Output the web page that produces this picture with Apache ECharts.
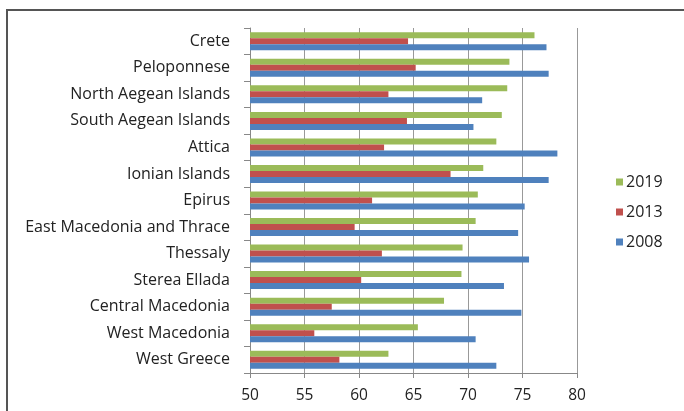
<!DOCTYPE html>
<html>
<head>
<meta charset="utf-8">
<script src="https://cdn.jsdelivr.net/npm/echarts@6/dist/echarts.min.js"></script>
<style>
  html, body { margin: 0; padding: 0; background: #fff; }
  #chart { width: 684px; height: 411px; }
</style>
</head>
<body>
<div id="chart"></div>
<script>
// Regions listed from bottom to top of the chart
const regions = [
  'West Greece', 'West Macedonia', 'Central Macedonia', 'Sterea Ellada',
  'Thessaly', 'East Macedonia and Thrace', 'Epirus', 'Ionian Islands',
  'Attica', 'South Aegean Islands', 'North Aegean Islands', 'Peloponnese', 'Crete'
];
const values2008 = [72.6, 70.7, 74.9, 73.3, 75.6, 74.6, 75.2, 77.4, 78.2, 70.5, 71.3, 77.4, 77.2];
const values2013 = [58.2, 55.9, 57.5, 60.2, 62.1, 59.6, 61.2, 68.4, 62.3, 64.4, 62.7, 65.2, 64.5];
const values2019 = [62.7, 65.4, 67.8, 69.4, 69.5, 70.7, 70.9, 71.4, 72.6, 73.1, 73.6, 73.8, 76.1];
const years = ['2019', '2013', '2008'];

const FONT = '"Open Sans", sans-serif';
const chart = echarts.init(document.getElementById('chart'), null, { renderer: 'canvas' });

chart.setOption({
  animation: false,
  backgroundColor: '#fff',
  textStyle: { fontFamily: FONT },
  graphic: [{
    type: 'rect',
    shape: { x: 7, y: 10, width: 700, height: 430 },
    style: { fill: 'none', stroke: '#555', lineWidth: 2 },
    silent: true
  }],
  legend: {
    data: years,
    orient: 'vertical',
    left: 616,
    top: 171,
    padding: 0,
    itemWidth: 7,
    itemHeight: 7,
    itemGap: 8,
    icon: 'rect',
    textStyle: { fontSize: 16, lineHeight: 22, color: '#222', fontFamily: FONT, padding: [0, 0, 0, -2] }
  },
  grid: { left: 250, right: 107, top: 28, bottom: 38, containLabel: false },
  xAxis: {
    type: 'value',
    min: 50,
    max: 80,
    interval: 5,
    axisLine: { show: true, lineStyle: { color: '#888', width: 1 } },
    axisTick: { show: true, length: 5, lineStyle: { color: '#888' } },
    axisLabel: { fontSize: 15.5, color: '#222', margin: 15, fontFamily: FONT },
    splitLine: { show: true, lineStyle: { color: '#999', width: 1 } }
  },
  yAxis: {
    type: 'category',
    data: regions,
    axisLine: { show: true, lineStyle: { color: '#888', width: 1 } },
    axisTick: { show: true, length: 6, lineStyle: { color: '#888' } },
    axisLabel: { fontSize: 16, color: '#222', margin: 20, fontFamily: FONT }
  },
  series: [
    { name: '2019', type: 'bar', data: values2019, barWidth: 6, barGap: '0%',
      itemStyle: { color: '#9bbb59' } },
    { name: '2013', type: 'bar', data: values2013, barWidth: 6, barGap: '0%',
      itemStyle: { color: '#c0504d' } },
    { name: '2008', type: 'bar', data: values2008, barWidth: 6, barGap: '0%',
      itemStyle: { color: '#4f81bd' } }
  ]
});
</script>
</body>
</html>
